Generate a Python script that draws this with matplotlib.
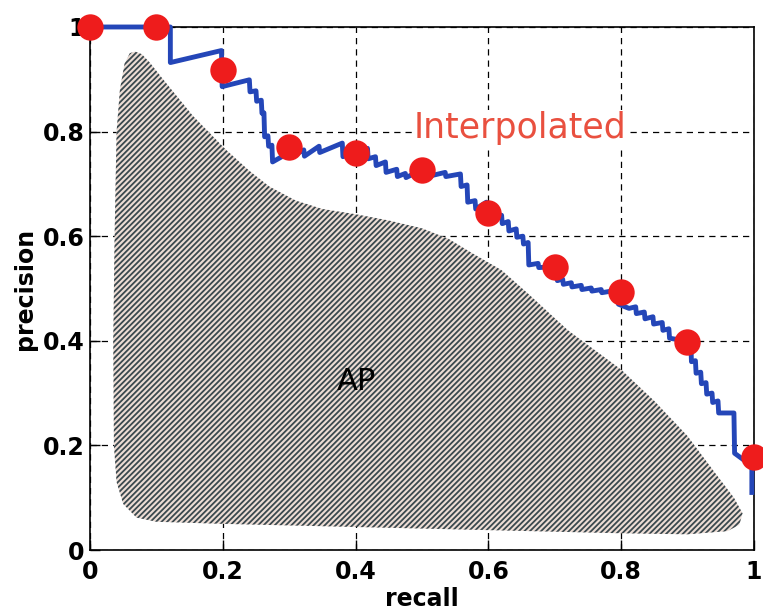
import numpy as np
import matplotlib.pyplot as plt

# raw precision/recall curve (step vertices)
recall = [0.0, 0.121, 0.121, 0.198, 0.199, 0.240, 0.241, 0.250, 0.251, 0.258,
          0.259, 0.262, 0.263, 0.268, 0.269, 0.274, 0.275, 0.300, 0.301, 0.322,
          0.323, 0.345, 0.346, 0.380, 0.381, 0.418, 0.419, 0.430, 0.431, 0.445,
          0.446, 0.462, 0.463, 0.475, 0.476, 0.500, 0.515, 0.535, 0.536, 0.558,
          0.559, 0.568, 0.569, 0.580, 0.581, 0.597, 0.598, 0.620, 0.621, 0.630,
          0.631, 0.642, 0.643, 0.652, 0.653, 0.660, 0.661, 0.675, 0.676, 0.703,
          0.704, 0.712, 0.713, 0.725, 0.726, 0.740, 0.741, 0.755, 0.756, 0.770,
          0.771, 0.795, 0.796, 0.812, 0.822, 0.823, 0.835, 0.836, 0.848, 0.849,
          0.862, 0.863, 0.872, 0.873, 0.905, 0.906, 0.912, 0.913, 0.920, 0.921,
          0.928, 0.929, 0.937, 0.938, 0.946, 0.947, 0.970, 0.971, 0.985, 0.997,
          0.997]
precision = [1.0, 1.0, 0.932, 0.955, 0.886, 0.899, 0.876, 0.878, 0.858, 0.860,
             0.835, 0.836, 0.790, 0.792, 0.772, 0.774, 0.742, 0.760, 0.750, 0.765,
             0.753, 0.772, 0.760, 0.778, 0.752, 0.768, 0.748, 0.752, 0.735, 0.742,
             0.722, 0.728, 0.714, 0.720, 0.712, 0.727, 0.716, 0.722, 0.714, 0.719,
             0.695, 0.698, 0.665, 0.668, 0.652, 0.665, 0.641, 0.640, 0.624, 0.628,
             0.610, 0.614, 0.598, 0.600, 0.585, 0.588, 0.545, 0.548, 0.540, 0.542,
             0.515, 0.518, 0.508, 0.511, 0.503, 0.506, 0.498, 0.501, 0.495, 0.498,
             0.492, 0.497, 0.470, 0.462, 0.465, 0.452, 0.455, 0.442, 0.446, 0.432,
             0.435, 0.420, 0.423, 0.405, 0.398, 0.360, 0.362, 0.338, 0.340, 0.318,
             0.320, 0.298, 0.300, 0.282, 0.285, 0.262, 0.262, 0.185, 0.172, 0.175,
             0.110]

# 11-point interpolated precision
interp_recall = [0.0, 0.1, 0.2, 0.3, 0.4, 0.5, 0.6, 0.7, 0.8, 0.9, 1.0]
interp_precision = [1.0, 1.0, 0.918, 0.771, 0.759, 0.727, 0.644, 0.542, 0.494, 0.398, 0.178]

# outline of the shaded AP area
ap_x = [0.060, 0.068, 0.078, 0.090, 0.110, 0.155, 0.205, 0.240, 0.270, 0.310,
        0.350, 0.400, 0.450, 0.500, 0.540, 0.575, 0.620, 0.660, 0.720, 0.800,
        0.850, 0.900, 0.940, 0.970, 0.983, 0.978, 0.960, 0.900, 0.800, 0.600,
        0.400, 0.200, 0.100, 0.070, 0.050, 0.040, 0.036, 0.035, 0.037, 0.040,
        0.045, 0.052]
ap_y = [0.950, 0.953, 0.948, 0.932, 0.900, 0.830, 0.765, 0.725, 0.695, 0.668,
        0.652, 0.642, 0.630, 0.615, 0.595, 0.568, 0.535, 0.490, 0.420, 0.345,
        0.285, 0.218, 0.150, 0.100, 0.070, 0.048, 0.036, 0.030, 0.032, 0.038,
        0.044, 0.050, 0.054, 0.062, 0.088, 0.130, 0.200, 0.400, 0.600, 0.800,
        0.880, 0.930]

ticks = [0, 0.2, 0.4, 0.6, 0.8, 1]
tick_labels = ["0", "0.2", "0.4", "0.6", "0.8", "1"]

plt.rcParams['hatch.linewidth'] = 1.3

fig = plt.figure(figsize=(7.63, 6.12), dpi=100)
ax = fig.add_axes([0.118, 0.1013, 0.870, 0.8546])

ax.fill(ap_x, ap_y, facecolor='#ecdcd4', edgecolor='#3a484e', linewidth=0,
        hatch='//////', zorder=2)
ax.text(0.402, 0.322, "AP", fontsize=22, color='black', ha='center', va='center', zorder=3)

ax.plot(recall, precision, color='#2446b8', linewidth=3.5, zorder=4, clip_on=False)
ax.plot(interp_recall, interp_precision, 'o', color='#ee1c1c', markersize=19,
        markeredgewidth=0, zorder=5, clip_on=False)

ax.text(0.647, 0.807, "Interpolated", fontsize=25, color='#e9503f', ha='center', va='center',
        zorder=3, bbox=dict(facecolor='white', edgecolor='none', pad=1))

ax.set_xlim(0, 1)
ax.set_ylim(0, 1)
ax.set_xticks(ticks)
ax.set_xticklabels(tick_labels)
ax.set_yticks(ticks)
ax.set_yticklabels(tick_labels)
ax.grid(True, color='black', linestyle=(0, (5, 4)), linewidth=0.9, zorder=1)
ax.set_axisbelow(True)
ax.tick_params(direction='in', length=7, width=1, labelsize=17)
ax.tick_params(axis='x', pad=7)
ax.tick_params(axis='y', pad=4)
for lbl in ax.get_xticklabels() + ax.get_yticklabels():
    lbl.set_fontweight('bold')
for sp in ax.spines.values():
    sp.set_linewidth(1.2)

ax.set_xlabel("recall", fontsize=17, fontweight='bold', labelpad=2)
ax.set_ylabel("precision", fontsize=17, fontweight='bold', labelpad=4)

fig.savefig("out.png", dpi=100)
